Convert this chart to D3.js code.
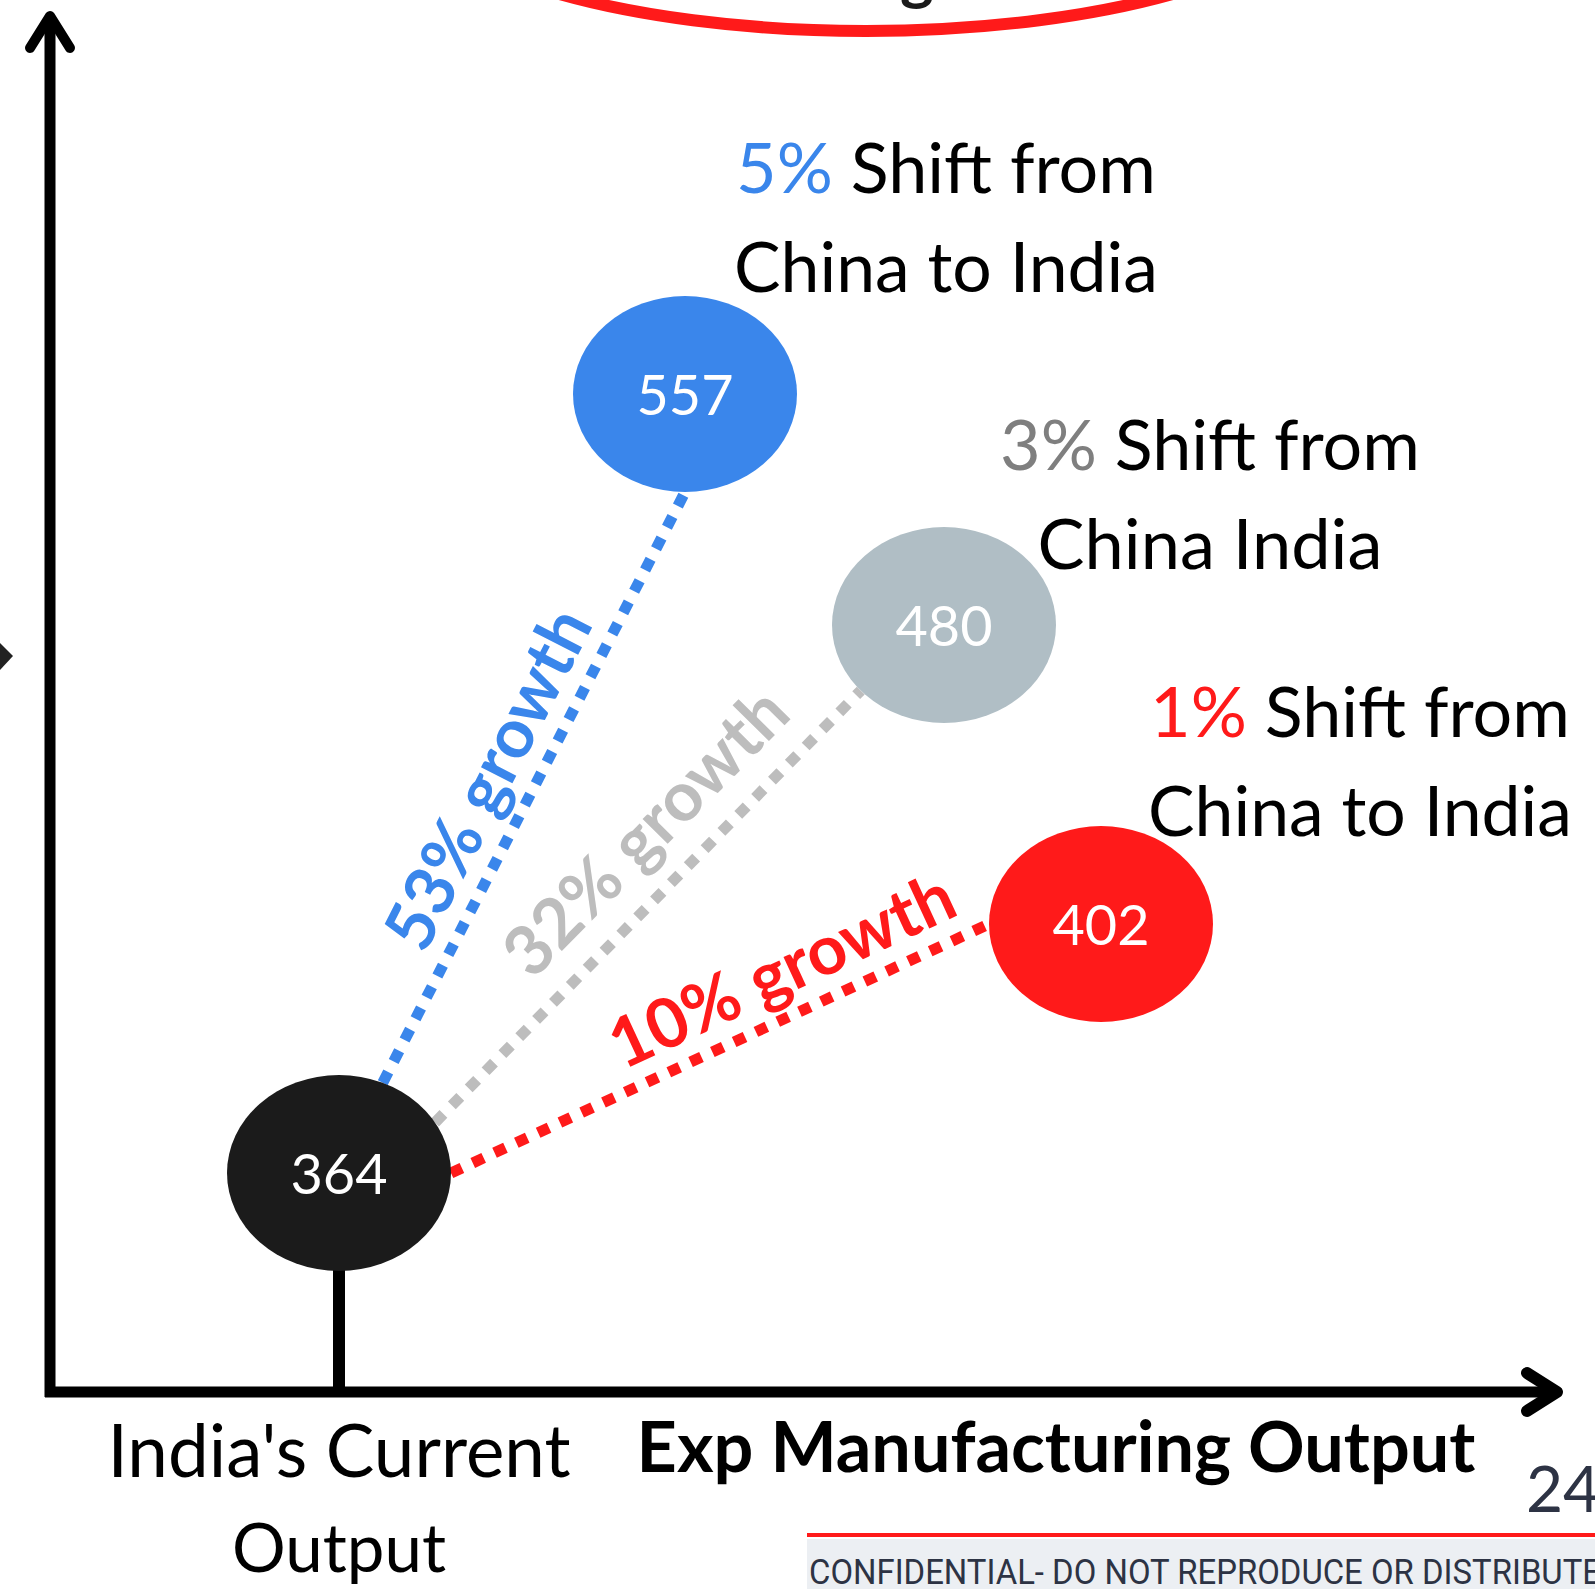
<!DOCTYPE html>
<html>
<head>
<meta charset="utf-8">
<script src="https://cdn.jsdelivr.net/npm/d3@7"></script>
<style>
  html, body { margin: 0; padding: 0; background: #ffffff; overflow: hidden; }
  svg { display: block; }
</style>
</head>
<body>
<svg id="chart" width="1595" height="1589"></svg>
<script>
// ---------------- data ----------------
const currentOutput = 364;
const shiftPct      = [5, 3, 1];
const outputs       = [557, 480, 402];
const growthPct     = [53, 32, 10];
const shiftLine2    = ["China to India", "China India", "China to India"];
const xAxisTitle    = "Exp Manufacturing Output";
const baseTitle     = ["India's Current", "Output"];
const pageNumber    = "24";
const footerText    = "CONFIDENTIAL- DO NOT REPRODUCE OR DISTRIBUTE";

// ---------------- styles / layout ----------------
const W = 1595, H = 1589;
const bubbleFill   = ["#3a86eb", "#b0bec5", "#ff1a1a"];
const pctColor     = ["#3a86eb", "#7f7f7f", "#ff1a1a"];
const lineColor    = ["#3a86eb", "#bdbdbd", "#ff1a1a"];
const baseFill     = "#1b1b1b";
const FONT = "Lato, 'Noto Sans', sans-serif";
const RX = 112, RY = 98;

const svg = d3.select("#chart");

// Piecewise scales placing the bubbles (value -> vertical, shift % -> horizontal)
const y = d3.scaleLinear().domain([364, 402, 480, 557]).range([1173, 924, 625, 394]);
const x = d3.scaleLinear().domain([0, 1, 3, 5]).range([339, 1101, 944, 685]);

// axes frame
const frame = { x0: 50, y0: 1392, top: 16, right: 1557 };

// fit helper
function fitWidth(sel, target) {
  const node = sel.node();
  const fs = parseFloat(sel.attr("font-size"));
  const w = node.getComputedTextLength();
  if (w > 0) sel.attr("font-size", (fs * target / w).toFixed(2));
  return sel;
}

// ---------------- top red arc (cut-off heading) ----------------
svg.append("ellipse")
  .attr("cx", 866).attr("cy", -122).attr("rx", 470).attr("ry", 153)
  .attr("fill", "none").attr("stroke", "#ff1a1a").attr("stroke-width", 12);
svg.append("text")
  .attr("x", 917).attr("y", -2).attr("text-anchor", "middle")
  .attr("font-family", FONT).attr("font-weight", 700).attr("font-size", 64)
  .attr("fill", "#1b1b1b").text("g");

// ---------------- axes ----------------
const ax = svg.append("g").attr("stroke", "#000").attr("fill", "none")
  .attr("stroke-linecap", "round").attr("stroke-linejoin", "round");
ax.append("line").attr("x1", frame.x0).attr("x2", frame.x0)
  .attr("y1", frame.top + 4).attr("y2", frame.y0 + 5).attr("stroke-width", 11).attr("stroke-linecap", "butt");
ax.append("line").attr("x1", frame.x0 - 5).attr("x2", frame.right - 4)
  .attr("y1", frame.y0).attr("y2", frame.y0).attr("stroke-width", 11).attr("stroke-linecap", "butt");
ax.append("path").attr("stroke-width", 10)
  .attr("d", d3.line()([[frame.x0 - 20, frame.top + 32], [frame.x0, frame.top], [frame.x0 + 20, frame.top + 32]]));
ax.append("path").attr("stroke-width", 12)
  .attr("d", d3.line()([[frame.right - 30, frame.y0 - 19], [frame.right, frame.y0], [frame.right - 30, frame.y0 + 19]]));
// small marker at left edge
svg.append("path").attr("fill", "#222")
  .attr("d", d3.line()([[0, 643], [13, 656], [0, 670]]) + "Z");

// stem from base bubble to x-axis
svg.append("line")
  .attr("x1", x(0)).attr("x2", x(0))
  .attr("y1", y(currentOutput)).attr("y2", frame.y0)
  .attr("stroke", "#000").attr("stroke-width", 12);

// ---------------- connector lines ----------------
// angles (degrees) where each connector leaves the base bubble and meets the target bubble
const startAngle = [-67, -31, 0];
const endAngle   = [90, 138, 180];
function edge(cx, cy, deg) {
  const a = deg * Math.PI / 180;
  return [cx + RX * Math.cos(a), cy + RY * Math.sin(a)];
}
const connectors = outputs.map((v, i) => {
  const s = edge(x(0), y(currentOutput), startAngle[i]);
  const e = edge(x(shiftPct[i]), y(v), endAngle[i]);
  return { s, e, i };
});

svg.append("g").selectAll("line").data(connectors).join("line")
  .attr("x1", d => d.s[0]).attr("y1", d => d.s[1])
  .attr("x2", d => d.e[0]).attr("y2", d => d.e[1])
  .attr("stroke", d => lineColor[d.i])
  .attr("stroke-width", 11)
  .attr("stroke-dasharray", "12 12");

// growth labels along lines
const labelT      = [0.48, 0.585, 0.65];
const labelOffset = [-21, -30, -21];
connectors.forEach(d => {
  const ang = Math.atan2(d.e[1] - d.s[1], d.e[0] - d.s[0]) * 180 / Math.PI;
  const px = d.s[0] + (d.e[0] - d.s[0]) * labelT[d.i];
  const py = d.s[1] + (d.e[1] - d.s[1]) * labelT[d.i];
  const t = svg.append("text")
    .attr("transform", `translate(${px},${py}) rotate(${ang})`)
    .attr("y", labelOffset[d.i])
    .attr("text-anchor", "middle")
    .attr("font-family", FONT).attr("font-weight", 700).attr("font-size", 60)
    .attr("fill", lineColor[d.i])
    .text(`${growthPct[d.i]}% growth`);
  fitWidth(t, 372);
});

// ---------------- bubbles ----------------
const bubbles = [{ v: currentOutput, p: 0, fill: baseFill }]
  .concat(outputs.map((v, i) => ({ v, p: shiftPct[i], fill: bubbleFill[i] })));

const bg = svg.append("g").selectAll("g").data(bubbles).join("g");
bg.append("ellipse")
  .attr("cx", d => x(d.p)).attr("cy", d => y(d.v))
  .attr("rx", RX).attr("ry", RY)
  .attr("fill", d => d.fill);
bg.append("text")
  .attr("x", d => x(d.p)).attr("y", d => y(d.v) + 21)
  .attr("text-anchor", "middle")
  .attr("font-family", FONT).attr("font-weight", 400).attr("font-size", 58)
  .attr("fill", "#ffffff")
  .text(d => d.v)
  .each(function () { fitWidth(d3.select(this), 97); });

// ---------------- shift annotations ----------------
const annCenterX = [946, 1210, 1360];
const annBase    = [193, 470, 737];
outputs.forEach((v, i) => {
  const t1 = svg.append("text")
    .attr("x", annCenterX[i]).attr("y", annBase[i])
    .attr("text-anchor", "middle")
    .attr("font-family", FONT).attr("font-weight", 400).attr("font-size", 64);
  t1.append("tspan").attr("fill", pctColor[i]).text(`${shiftPct[i]}%`);
  t1.append("tspan").attr("fill", "#000").text(" Shift from");
  fitWidth(t1, 420);
  const t2 = svg.append("text")
    .attr("x", annCenterX[i]).attr("y", annBase[i] + 99)
    .attr("text-anchor", "middle")
    .attr("font-family", FONT).attr("font-weight", 400).attr("font-size", 64)
    .attr("fill", "#000").text(shiftLine2[i]);
  fitWidth(t2, shiftLine2[i] === "China India" ? 345 : 424);
});

// ---------------- axis titles ----------------
const b1 = svg.append("text").attr("x", x(0)).attr("y", 1477).attr("text-anchor", "middle")
  .attr("font-family", FONT).attr("font-weight", 400).attr("font-size", 64)
  .attr("fill", "#000").text(baseTitle[0]);
fitWidth(b1, 463);
const b2 = svg.append("text").attr("x", x(0)).attr("y", 1572).attr("text-anchor", "middle")
  .attr("font-family", FONT).attr("font-weight", 400).attr("font-size", 64)
  .attr("fill", "#000").text(baseTitle[1]);
fitWidth(b2, 214);
const xt = svg.append("text").attr("x", 1056).attr("y", 1472).attr("text-anchor", "middle")
  .attr("font-family", FONT).attr("font-weight", 700).attr("font-size", 64)
  .attr("fill", "#000").text(xAxisTitle);
fitWidth(xt, 839);

// ---------------- page number & footer ----------------
svg.append("text").attr("x", 1526).attr("y", 1512)
  .attr("font-family", FONT).attr("font-weight", 400).attr("font-size", 64)
  .attr("fill", "#2d3344").text(pageNumber);

svg.append("rect").attr("x", 807).attr("y", 1539).attr("width", W - 807).attr("height", H - 1539)
  .attr("fill", "#eceff3");
svg.append("line").attr("x1", 807).attr("x2", W).attr("y1", 1535).attr("y2", 1535)
  .attr("stroke", "#ff1a1a").attr("stroke-width", 4);
svg.append("text").attr("x", 809).attr("y", 1584)
  .attr("font-family", "Roboto, sans-serif").attr("font-weight", 400).attr("font-size", 35)
  .attr("fill", "#2d3344")
  .attr("textLength", 792).attr("lengthAdjust", "spacingAndGlyphs")
  .text(footerText);
</script>
</body>
</html>
